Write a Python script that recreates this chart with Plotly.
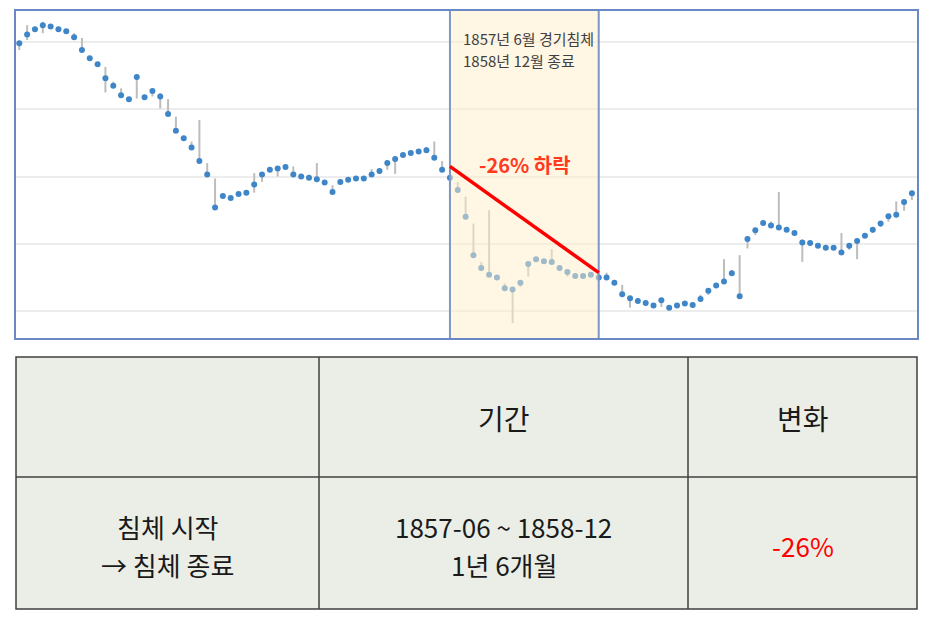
import plotly.graph_objects as go

# ---------------- data ----------------
closes = [79.8, 81.1, 81.9, 82.5, 82.3, 81.9, 81.6, 80.7, 78.8, 77.6,
          76.7, 74.6, 73.5, 72.1, 71.5, 74.8, 71.8, 72.7, 71.9, 69.3,
          66.8, 65.7, 64.3, 62.3, 60.3, 55.4, 57.1, 56.8, 57.4, 57.6,
          58.8, 60.3, 61.0, 61.2, 61.4, 60.3, 60.0, 59.8, 59.6, 59.1,
          57.7, 59.2, 59.5, 59.7, 59.7, 60.3, 60.8, 62.0, 62.6, 63.2,
          63.5, 63.7, 63.9, 62.8, 61.0, 59.8, 58.0, 54.0, 48.3, 46.4,
          45.4, 45.0, 43.4, 43.2, 44.2, 47.0, 47.7, 47.4, 47.3, 46.4,
          45.8, 45.2, 45.2, 45.4, 45.0, 45.0, 44.2, 42.5, 41.9, 41.5,
          41.2, 40.8, 41.6, 40.5, 40.8, 41.1, 40.9, 41.8, 43.0, 43.8,
          44.4, 45.6, 42.2, 50.7, 52.0, 53.1, 52.7, 52.4, 52.1, 51.6,
          50.2, 50.1, 49.7, 49.4, 49.4, 48.7, 49.7, 50.4, 51.2, 52.1,
          53.0, 54.1, 54.3, 56.2, 57.5]
highs = [79.8, 82.5, 81.9, 83.0, 82.3, 81.9, 81.6, 81.3, 80.6, 77.6,
         76.7, 76.3, 74.1, 73.1, 71.5, 74.8, 71.8, 72.7, 72.4, 71.5,
         68.9, 65.7, 65.2, 68.4, 62.0, 59.7, 57.1, 56.8, 57.4, 57.6,
         60.5, 60.3, 61.0, 61.5, 61.4, 61.5, 60.0, 59.8, 62.0, 59.1,
         58.7, 59.2, 59.5, 59.7, 59.7, 61.1, 60.8, 62.0, 62.9, 63.2,
         63.5, 63.7, 64.4, 65.2, 62.3, 59.8, 59.2, 57.0, 53.0, 47.3,
         55.0, 45.0, 44.1, 43.2, 44.2, 47.0, 47.7, 47.4, 49.2, 46.4,
         45.8, 45.2, 45.2, 45.4, 45.0, 45.7, 44.2, 43.9, 41.9, 41.5,
         41.2, 40.8, 41.6, 40.5, 40.8, 41.1, 40.9, 42.4, 43.0, 43.8,
         47.7, 46.1, 48.3, 50.7, 52.0, 53.1, 53.3, 57.7, 52.1, 51.6,
         50.6, 50.1, 49.7, 49.4, 49.4, 51.6, 49.7, 50.4, 51.2, 52.1,
         53.0, 54.1, 56.3, 56.2, 57.5]
lows = [78.8, 80.3, 81.9, 81.3, 82.3, 81.9, 81.6, 80.7, 78.8, 77.6,
        76.7, 72.5, 73.5, 72.1, 71.5, 71.6, 71.8, 71.9, 70.1, 69.3,
        66.8, 65.7, 64.3, 62.3, 60.3, 55.4, 57.1, 56.8, 57.4, 57.6,
        57.6, 59.2, 61.0, 60.0, 61.4, 60.3, 60.0, 59.8, 59.6, 59.1,
        57.7, 59.2, 59.5, 59.7, 59.7, 60.3, 60.8, 61.0, 60.4, 63.2,
        63.5, 63.7, 63.9, 62.8, 61.0, 56.5, 58.0, 54.0, 48.3, 46.4,
        45.4, 45.0, 43.4, 38.2, 43.6, 45.1, 47.7, 47.4, 47.3, 46.4,
        45.1, 45.2, 45.2, 45.4, 45.0, 45.0, 44.2, 42.5, 40.5, 41.5,
        41.2, 40.8, 40.6, 40.5, 40.8, 41.1, 40.9, 41.8, 42.4, 43.8,
        44.4, 45.6, 42.2, 49.3, 51.3, 53.1, 52.7, 52.4, 52.1, 51.6,
        47.3, 50.1, 49.7, 49.4, 49.4, 48.7, 49.1, 47.7, 51.2, 51.6,
        52.5, 53.3, 54.3, 54.9, 56.5]
period = list(range(len(closes)))

recession_x = [55, 74]          # 1857-06 start, 1858-12 end (index)
recession_y = [61.5, 45.7]      # level at start / end (-26%)
recession_note = ["1857년 6월 경기침체", "1858년 12월 종료"]
drop_label = "-26% 하락"
gridvals = [40, 50, 60, 70, 80]

table_header = ["", "기간", "변화"]
table_row = [["침체 시작", "→ 침체 종료"],
             ["1857-06 ~ 1858-12", "1년 6개월"],
             ["-26%"]]

# ---------------- layout helpers ----------------
W, H = 940, 627
def px(x):
    return x / W
def py(y):
    return 1 - y / H

FONT = "Noto Sans CJK KR"

# high-low segments
seg_x, seg_y = [], []
for i, h, l in zip(period, highs, lows):
    seg_x += [i, i, None]
    seg_y += [l, h, None]

fig = go.Figure()
fig.add_trace(go.Scatter(x=seg_x, y=seg_y, mode="lines",
                         line=dict(color="#BDBDBD", width=2),
                         hoverinfo="skip", showlegend=False))
fig.add_trace(go.Scatter(x=period, y=closes, mode="markers",
                         marker=dict(color="#3F86C8", size=6),
                         showlegend=False))

shapes = []
shapes.append(dict(type="rect", xref="x", yref="y domain",
                   x0=recession_x[0], x1=recession_x[1], y0=0, y1=1,
                   fillcolor="rgba(255,238,200,0.5)", line=dict(width=0),
                   layer="above"))
for xv in recession_x:
    shapes.append(dict(type="line", xref="x", yref="y domain",
                       x0=xv, x1=xv, y0=0, y1=1,
                       line=dict(color="#7D96C6", width=2), layer="above"))
shapes.append(dict(type="line", xref="x", yref="y",
                   x0=recession_x[0], y0=recession_y[0],
                   x1=recession_x[1], y1=recession_y[1],
                   line=dict(color="#FF0000", width=3.5), layer="above"))

# table
tx = [16, 319, 688, 917]
ty = [357, 477, 609]
shapes.append(dict(type="rect", xref="paper", yref="paper",
                   x0=px(tx[0]), x1=px(tx[-1]), y0=py(ty[0]), y1=py(ty[-1]),
                   fillcolor="#EBEEE7", line=dict(color="#404040", width=1.5)))
for xv in tx[1:-1]:
    shapes.append(dict(type="line", xref="paper", yref="paper",
                       x0=px(xv), x1=px(xv), y0=py(ty[0]), y1=py(ty[-1]),
                       line=dict(color="#404040", width=1.5)))
shapes.append(dict(type="line", xref="paper", yref="paper",
                   x0=px(tx[0]), x1=px(tx[-1]), y0=py(ty[1]), y1=py(ty[1]),
                   line=dict(color="#404040", width=1.5)))

annotations = []
for j, line_txt in enumerate(recession_note):
    annotations.append(dict(xref="paper", yref="paper", x=px(461), y=py(39 + 22 * j),
                            text=line_txt, showarrow=False,
                            xanchor="left", yanchor="middle",
                            font=dict(family=FONT, size=15, color="#404040")))
annotations.append(dict(xref="paper", yref="paper", x=px(525), y=py(165),
                        text="<b>" + drop_label + "</b>", showarrow=False,
                        xanchor="center", yanchor="middle",
                        font=dict(family=FONT, size=20, color="#FF3A1E")))

ROW_MID = 545.5
LINE_GAP = 38.5
for k in range(3):
    cx = (tx[k] + tx[k + 1]) / 2
    if table_header[k]:
        annotations.append(dict(xref="paper", yref="paper", x=px(cx), y=py(418),
                                text=table_header[k], showarrow=False,
                                xanchor="center", yanchor="middle",
                                font=dict(family=FONT, size=28, color="#1A1A1A")))
    lines = table_row[k]
    n = len(lines)
    for j, line_txt in enumerate(lines):
        yc = ROW_MID + (j - (n - 1) / 2) * LINE_GAP
        annotations.append(dict(xref="paper", yref="paper", x=px(cx), y=py(yc),
                                text=line_txt, showarrow=False,
                                xanchor="center", yanchor="middle",
                                font=dict(family=FONT, size=26,
                                          color="#FF0000" if k == 2 else "#1A1A1A")))

y_lo = 40 - 27 / 6.725
y_hi = 40 + 300 / 6.725
x_lo = -3.3 / 7.83
x_hi = (917 - 19.3) / 7.83

fig.update_layout(
    width=W, height=H,
    margin=dict(l=0, r=0, t=0, b=0),
    paper_bgcolor="white", plot_bgcolor="white",
    showlegend=False,
    shapes=shapes, annotations=annotations,
    xaxis=dict(domain=[px(16), px(917)], range=[x_lo, x_hi],
               showgrid=False, zeroline=False, showticklabels=False, ticks="",
               showline=True, mirror=True, linecolor="#6A89C4", linewidth=2),
    yaxis=dict(domain=[py(338), py(11)], range=[y_lo, y_hi],
               tickvals=gridvals, showgrid=True, gridcolor="#EDEDED", gridwidth=2,
               zeroline=False, showticklabels=False, ticks="",
               showline=True, mirror=True, linecolor="#6A89C4", linewidth=2),
    font=dict(family=FONT),
)

fig.write_html("out.html", config={"displayModeBar": False},
               post_script="document.body.style.margin='0';")
